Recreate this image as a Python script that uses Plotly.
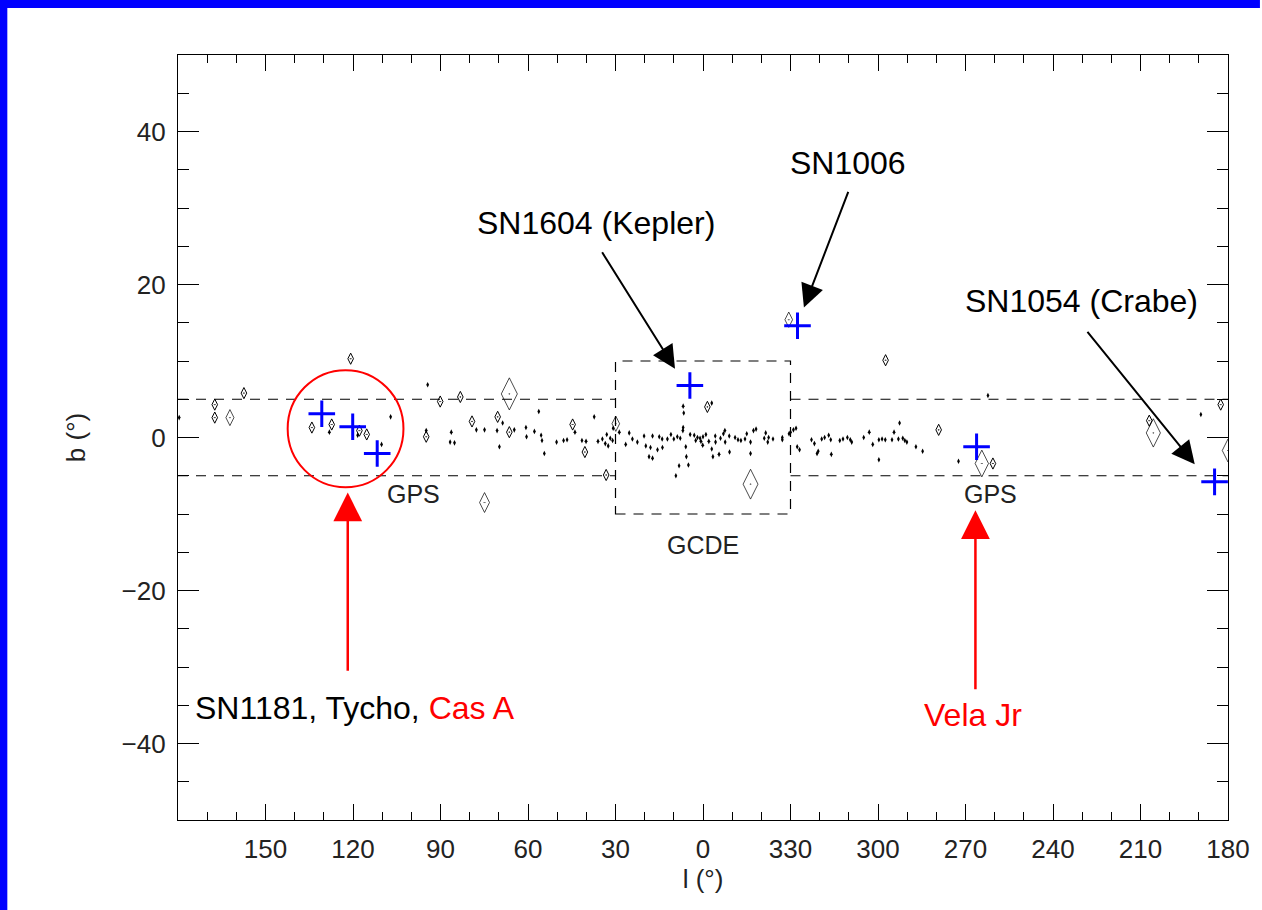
import plotly.graph_objects as go

# ---------------- data (galactic longitude l in deg 0..360, latitude b in deg) ----------------
# tiny point-like sources
pt_l = [179.6, 107.1, 128.1, 118.4, 110.2, 94.4, 94.9, 86.3, 86.7, 85.2, 77.7, 74.9, 70.6, 68.7,
        64.7, 69.8, 60.7, 60.5, 57.8, 56.3, 55.5, 55.2, 54.4, 50.2, 47.8, 46.6, 43.9, 41.5, 40.1,
        37.3, 36.0, 34.5, 33.5, 32.5, 31.8, 33.0,
        30.8, 28.7, 31.0, 25.3, 24.2, 22.5, 19.6, 18.0, 15.6, 13.9, 18.5, 17.3, 20.2, 17.3, 15.0,
        12.2, 10.0, 8.8, 7.8, 6.9, 6.8, 6.6, 6.8, 5.9, 5.7, 8.2, 5.0, 9.3, 4.4, 1.9, 1.0, 0.0,
        359.0, 358.0, 0.7, 0.1, 357.0, 355.7, 356.6, 354.5, 355.8, 354.0, 353.0, 352.4, 352.5,
        350.9, 349.0, 348.0, 347.0, 345.6, 343.7, 343.7, 342.7, 341.8, 339.0, 338.5, 337.5, 337.8,
        332.8, 332.8, 330.5, 357.0, 3.0, 11.0, 14.0, 26.5, 2.5, 351.0, 345.0, 336.0,
        330.0, 329.0, 328.1, 327.7, 326.9, 322.8, 321.8, 320.9, 320.5, 319.3, 318.3, 316.9, 316.2,
        316.0, 313.1, 312.0, 310.5, 309.5, 309.0, 304.9, 303.0, 301.8, 299.7, 298.6, 297.5, 299.7,
        295.2, 294.5, 293.0, 292.6, 291.5, 290.8, 290.1, 287.0, 284.7, 272.4, 262.3, 189.3]
pt_b = [2.6, 2.7, 0.7, 0.3, -0.9, 6.9, 0.9, 0.7, -0.6, -0.7, 1.0, 1.0, 0.9, 1.9,
        1.0, -1.2, 1.3, 0.1, 0.8, 3.4, 0.3, -0.4, -2.1, -0.6, -0.4, -0.3, 0.7, -0.4, -0.5,
        2.7, -0.5, -0.2, -0.8, -1.1, -0.1, 0.4,
        1.2, 0.7, -0.4, 0.6, -0.2, -0.6, -1.1, -1.3, -1.6, -1.3, -2.5, -2.7, 0.2, 0.2, 0.1,
        -0.2, -0.2, 0.1, -0.1, 0.9, 4.1, 3.2, 1.3, -1.2, -2.5, -3.7, -3.6, -5.0, 0.4, 0.0, -0.1, 0.1,
        0.4, -0.5, -0.5, -1.0, -1.5, -0.6, -2.5, -2.2, 0.2, -0.1, 0.5, -0.6, 0.9,
        -1.9, 0.0, -0.3, -0.4, -0.2, -0.6, -2.1, 0.9, 1.1, -0.1, 0.6, 0.0, -0.6,
        0.0, -0.3, 0.5, 4.5, 0.3, 0.4, -0.2, -0.9, -0.4, 0.2, 0.5, -0.2,
        0.7, 1.0, 1.2, -1.2, -1.6, -0.3, -0.8, -2.1, -1.8, -0.2, 0.0, 0.3, -0.3,
        -2.2, -0.4, -0.2, 0.0, -0.3, -0.6, 0.0, 0.7, -0.9, -0.3, -0.2, -0.3, -2.9,
        -0.3, 0.7, -0.2, 1.9, -0.1, -0.4, -0.6, -1.2, -1.8, -3.1, 5.5, 3.0]

# small open diamond sources
sm_l = [157.4, 167.4, 167.4, 134.1, 127.3, 117.8, 115.3, 120.8, 90.1, 83.2, 94.9, 79.2, 70.4,
        66.4, 44.7, 40.5, 33.2, 358.5, 297.4, 279.2, 260.6, 182.5, 207.0]
sm_b = [5.8, 2.6, 4.3, 1.3, 1.7, 0.9, 0.4, 10.3, 4.7, 5.3, 0.1, 2.1, 2.7,
        0.7, 1.7, -1.9, -4.9, 4.0, 10.1, 1.0, -3.4, 4.3, 2.2]

# extended sources: position and angular extent (deg)
ext_l = [162.2, 66.4, 74.9, 29.9, 343.7, 330.6, 264.4, 205.6, 180.0]
ext_b = [2.6, 5.7, -8.5, 1.8, -6.1, 15.4, -3.4, 0.6, -1.7]
ext_deg = [2.1, 4.2, 2.6, 2.0, 3.9, 2.0, 3.5, 3.7, 3.0]

# historical supernova remnants
snr_names = ["SN1181", "Tycho", "Cas A", "Kepler", "SN1006", "Vela Jr", "Crab"]
snr_l = [130.7, 120.1, 111.7, 4.5, 327.6, 266.2, 184.6]
snr_b = [3.1, 1.4, -2.1, 6.8, 14.6, -1.2, -5.8]

# survey regions
gps_b = 5
gps_x_segments = [(180, 30), (-30, -180)]
gcde_l = (30, 330)
gcde_b = 10

# axes
x_tick_labels = [150, 120, 90, 60, 30, 0, 330, 300, 270, 240, 210, 180]
y_tick_vals = [-40, -20, 0, 20, 40]


def to_x(l):
    return l - 360 if l >= 180 else l


# ---------------- figure ----------------
W, H = 1262, 910
ML, MR, MT, MB = 178, 32, 55, 90
plot_h = H - MT - MB
y_range = (-50, 50)
px_per_deg_b = plot_h / (y_range[1] - y_range[0])

fig = go.Figure()

# survey boundaries
dash = "10px,8px"
for (x0, x1) in gps_x_segments:
    for s in (1, -1):
        fig.add_shape(type="line", x0=x0, x1=x1, y0=s * gps_b, y1=s * gps_b,
                      xref="x", yref="y",
                      line=dict(color="black", width=1.2, dash=dash), layer="below")
fig.add_shape(type="rect", x0=to_x(gcde_l[0]), x1=to_x(gcde_l[1]), y0=-gcde_b, y1=gcde_b,
              xref="x", yref="y", line=dict(color="black", width=1.2, dash=dash), layer="below")

# sources
fig.add_trace(go.Scatter(x=[to_x(v) for v in pt_l], y=pt_b, mode="markers",
                         marker=dict(symbol="diamond-tall", size=4, color="black",
                                     line=dict(width=0)),
                         showlegend=False, hoverinfo="skip"))
fig.add_trace(go.Scatter(x=[to_x(v) for v in sm_l], y=sm_b, mode="markers",
                         marker=dict(symbol="diamond-tall-open-dot", size=8, color="black",
                                     line=dict(width=1, color="black")),
                         showlegend=False, hoverinfo="skip"))
fig.add_trace(go.Scatter(x=[to_x(v) for v in ext_l], y=ext_b, mode="markers",
                         marker=dict(symbol="diamond-tall-open-dot",
                                     size=[d * px_per_deg_b / 1.4 for d in ext_deg],
                                     color="black", line=dict(width=1, color="black")),
                         showlegend=False, hoverinfo="skip"))
fig.add_trace(go.Scatter(x=[to_x(v) for v in snr_l], y=snr_b, mode="markers",
                         text=snr_names,
                         marker=dict(symbol="cross-thin-open", size=19, color="#0000ff",
                                     line=dict(width=3, color="#0000ff")),
                         showlegend=False, hoverinfo="text"))

# red circle around SN1181/Tycho/Cas A
fig.add_shape(type="circle", x0=142.4, x1=102.7, y0=-6.5, y1=8.8, xref="x", yref="y",
              line=dict(color="#ff0000", width=2))

# blue frame (top and left)
fig.add_shape(type="rect", xref="paper", yref="paper",
              x0=-ML / (W - ML - MR), x1=(W - ML) / (W - ML - MR),
              y0=1 + (MT - 8) / plot_h, y1=1 + (MT + 2) / plot_h,
              fillcolor="#0000ff", line=dict(width=0))
fig.add_shape(type="rect", xref="paper", yref="paper",
              x0=-(ML + 2) / (W - ML - MR), x1=-(ML - 7) / (W - ML - MR),
              y0=-MB / plot_h, y1=1 + (MT + 2) / plot_h,
              fillcolor="#0000ff", line=dict(width=0))

afont = dict(family="Liberation Sans, Arial, sans-serif", size=32, color="black")
lfont = dict(family="Liberation Sans, Arial, sans-serif", size=26, color="#222222")
gfont = dict(family="Liberation Sans, Arial, sans-serif", size=25, color="#222222")

# arrows (tail -> head, data coords)
arrows = [
    (34.9, 24.4, 9.6, 9.0, "black", 2),
    (-50.0, 32.3, -34.6, 17.0, "black", 2),
    (-131.4, 14.0, -168.6, -3.5, "black", 2),
    (121.8, -30.7, 121.8, -7.2, "#ff0000", 2.5),
    (-93.4, -33.1, -93.4, -9.5, "#ff0000", 2.5),
]
for ax_, ay_, x_, y_, c, w in arrows:
    fig.add_annotation(x=x_, y=y_, ax=ax_, ay=ay_, xref="x", yref="y", axref="x", ayref="y",
                       text="", showarrow=True, arrowhead=2, arrowsize=2.3, arrowwidth=w,
                       arrowcolor=c)

texts = [
    (36.6, 28.1, "SN1604 (Kepler)", "center"),
    (-49.6, 35.9, "SN1006", "center"),
    (-129.7, 17.9, "SN1054 (Crabe)", "center"),
    (174.9, -35.3, "SN1181, Tycho, <span style='color:#ff0000'>Cas A</span>", "left"),
    (-92.4, -36.3, "<span style='color:#ff0000'>Vela Jr</span>", "center"),
]
for x_, y_, t, xa in texts:
    fig.add_annotation(x=x_, y=y_, xref="x", yref="y", text=t, showarrow=False,
                       xanchor=xa, yanchor="middle", font=afont)

for x_, y_, t in [(99.2, -7.4, "GPS"), (-98.6, -7.4, "GPS"), (0, -14.1, "GCDE")]:
    fig.add_annotation(x=x_, y=y_, xref="x", yref="y", text=t, showarrow=False,
                       xanchor="center", yanchor="middle", font=gfont)

fig.update_xaxes(range=[180, -180], tickmode="array",
                 tickvals=[to_x(v) if v != 180 else -180 for v in x_tick_labels],
                 ticktext=[str(v) for v in x_tick_labels],
                 ticks="inside", ticklen=16, tickwidth=1, tickcolor="black",
                 minor=dict(dtick=10, tick0=0, ticks="inside", ticklen=8, tickwidth=1,
                            tickcolor="black", showgrid=False),
                 showline=True, linecolor="black", linewidth=1.2, mirror="allticks",
                 showgrid=False, zeroline=False, tickfont=lfont, ticklabelstandoff=6,
                 title=dict(text="l (°)", font=lfont, standoff=2))
fig.update_yaxes(range=list(y_range), tickmode="array", tickvals=y_tick_vals,
                 ticks="inside", ticklen=21, tickwidth=1, tickcolor="black",
                 minor=dict(dtick=5, tick0=0, ticks="inside", ticklen=11, tickwidth=1,
                            tickcolor="black", showgrid=False),
                 showline=True, linecolor="black", linewidth=1.2, mirror="allticks",
                 showgrid=False, zeroline=False, tickfont=lfont, ticklabelstandoff=6,
                 title=dict(text="b (°)", font=lfont, standoff=28))

fig.update_layout(width=W, height=H, margin=dict(l=ML, r=MR, t=MT, b=MB),
                  plot_bgcolor="white", paper_bgcolor="white", showlegend=False)

fig.write_html("out.html", config={"displayModeBar": False},
               post_script="document.body.style.margin='0';document.body.style.overflow='hidden';")
